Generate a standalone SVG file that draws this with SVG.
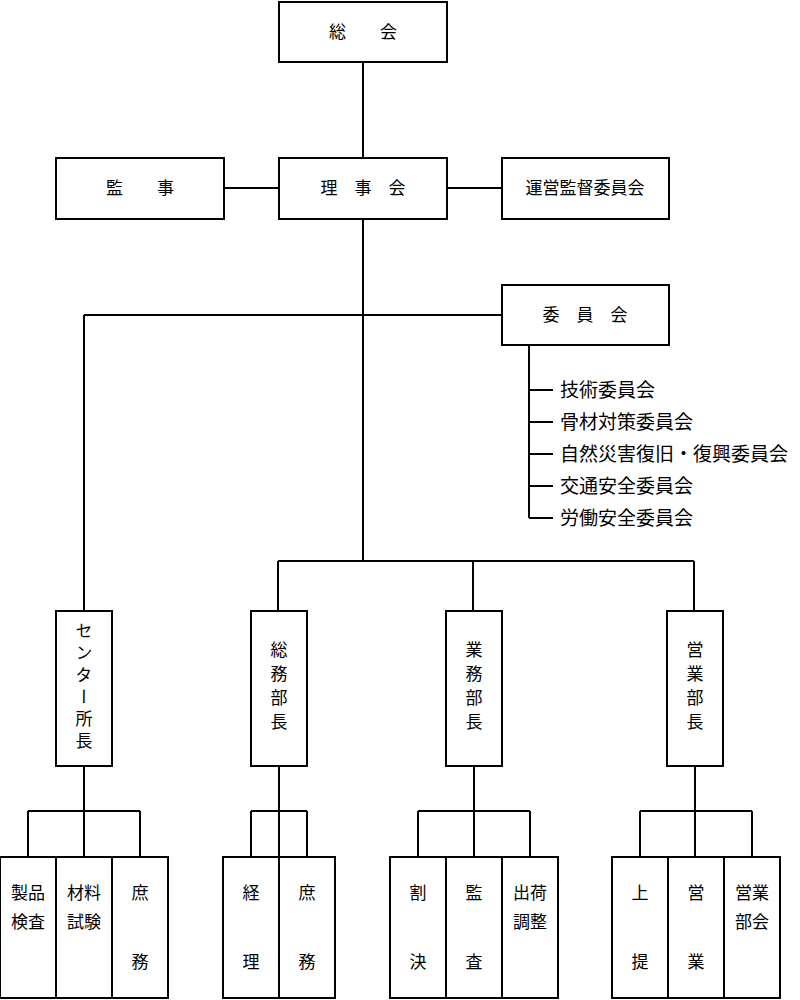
<svg xmlns="http://www.w3.org/2000/svg" width="800" height="1000" viewBox="0 0 800 1000">
<style>
rect{fill:#fff;stroke:#000;stroke-width:2}
#connectors path{fill:none;stroke:#000;stroke-width:2}
text{font-family:"Noto Sans CJK JP","Liberation Serif",sans-serif;font-size:17px;fill:#000}
.c{text-anchor:middle}
.v{writing-mode:vertical-rl;text-anchor:start}
.s{font-size:19px}
</style>
<rect width="800" height="1000" style="fill:#fff;stroke:none"/>
<g id="connectors">
<path d="M363 62V561M224 188H279M447 188H502M84 315H502M84 315V611M529 345V518M529 390H553M529 422H553M529 454H553M529 486H553M529 518H553"/>
<path d="M278 561H694M278 561V611M473 561V611M694 561V611"/>
<path d="M84 766V857M28 811H140M28 811V857M140 811V857"/>
<path d="M279 766V857M251 811H307M251 811V857M307 811V857"/>
<path d="M474 766V857M418 811H530M418 811V857M530 811V857"/>
<path d="M695 766V857M640 811H752M640 811V857M752 811V857"/>
</g>
<g id="n_soukai"><rect x="279" y="2" width="168" height="60"/><text class="c" x="363" y="38">総　　会</text></g>
<g id="n_kanji"><rect x="56" y="158" width="168" height="61"/><text class="c" x="140" y="194">監　　事</text></g>
<g id="n_rijikai"><rect x="279" y="158" width="168" height="61"/><text class="c" x="363" y="194">理　事　会</text></g>
<g id="n_unei"><rect x="502" y="158" width="167" height="61"/><text class="c" x="585" y="194">運営監督委員会</text></g>
<g id="n_iinkai"><rect x="502" y="285" width="167" height="60"/><text class="c" x="585" y="321">委　員　会</text></g>
<g id="n_sub">
<text class="s" x="560" y="397">技術委員会</text>
<text class="s" x="560" y="429">骨材対策委員会</text>
<text class="s" x="560" y="461">自然災害復旧・復興委員会</text>
<text class="s" x="560" y="493">交通安全委員会</text>
<text class="s" x="560" y="525">労働安全委員会</text>
</g>
<g id="n_center"><rect x="56" y="611" width="56" height="155"/><text class="v" x="84" y="622" style="letter-spacing:5px">センター所長</text></g>
<g id="n_soumu"><rect x="251" y="611" width="56" height="155"/><text class="v" x="279" y="641" style="letter-spacing:7px">総務部長</text></g>
<g id="n_gyoumu"><rect x="446" y="611" width="56" height="155"/><text class="v" x="474" y="641" style="letter-spacing:7px">業務部長</text></g>
<g id="n_eigyou"><rect x="667" y="611" width="56" height="155"/><text class="v" x="695" y="641" style="letter-spacing:7px">営業部長</text></g>
<g id="b1"><rect x="0" y="857" width="56" height="141"/><text class="c" x="28" y="899">製品</text><text class="c" x="28" y="928">検査</text></g>
<g id="b2"><rect x="56" y="857" width="56" height="141"/><text class="c" x="84" y="899">材料</text><text class="c" x="84" y="928">試験</text></g>
<g id="b3"><rect x="112" y="857" width="56" height="141"/><text class="c" x="140" y="899">庶</text><text class="c" x="140" y="968">務</text></g>
<g id="b4"><rect x="223" y="857" width="56" height="141"/><text class="c" x="251" y="899">経</text><text class="c" x="251" y="968">理</text></g>
<g id="b5"><rect x="279" y="857" width="56" height="141"/><text class="c" x="307" y="899">庶</text><text class="c" x="307" y="968">務</text></g>
<g id="b6"><rect x="390" y="857" width="56" height="141"/><text class="c" x="418" y="899">割</text><text class="c" x="418" y="968">決</text></g>
<g id="b7"><rect x="446" y="857" width="56" height="141"/><text class="c" x="474" y="899">監</text><text class="c" x="474" y="968">査</text></g>
<g id="b8"><rect x="502" y="857" width="56" height="141"/><text class="c" x="530" y="899">出荷</text><text class="c" x="530" y="928">調整</text></g>
<g id="b9"><rect x="612" y="857" width="56" height="141"/><text class="c" x="640" y="899">上</text><text class="c" x="640" y="968">提</text></g>
<g id="b10"><rect x="668" y="857" width="56" height="141"/><text class="c" x="696" y="899">営</text><text class="c" x="696" y="968">業</text></g>
<g id="b11"><rect x="724" y="857" width="56" height="141"/><text class="c" x="752" y="899">営業</text><text class="c" x="752" y="928">部会</text></g>
</svg>
